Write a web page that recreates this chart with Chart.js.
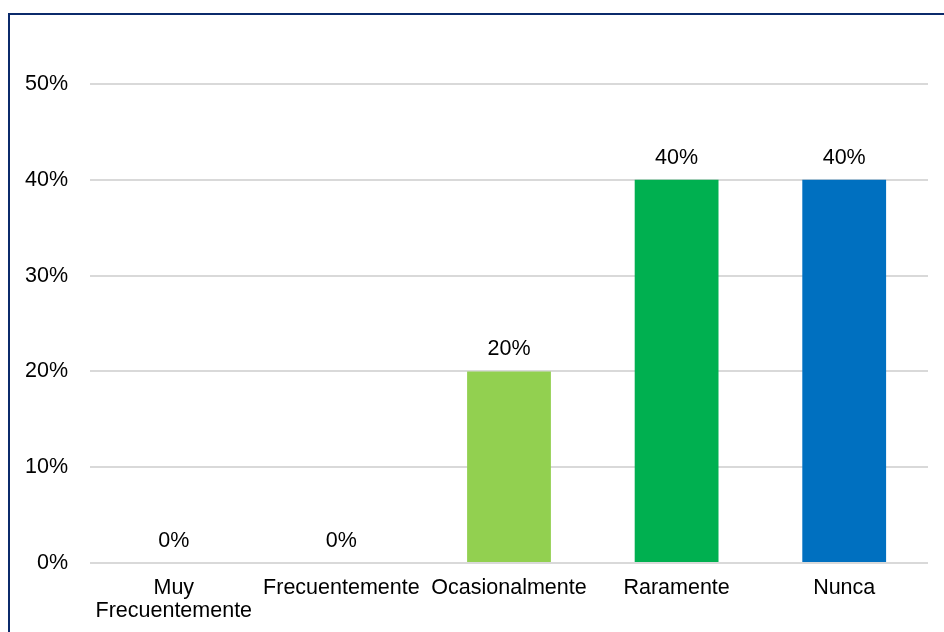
<!DOCTYPE html>
<html>
<head>
<meta charset="utf-8">
<script src="https://cdn.jsdelivr.net/npm/chart.js@4/dist/chart.umd.min.js"></script>
<style>
  html, body { margin: 0; padding: 0; background: #fff; overflow: hidden; }
  #wrap { position: relative; width: 944px; height: 632px; }
  #frame { position: absolute; left: 8px; top: 13px; width: 960px; height: 660px; border: 2px solid #0B2A6B; }
  canvas { position: absolute; left: 0; top: 0; }
</style>
</head>
<body>
<div id="wrap">
  <div id="frame"></div>
  <canvas id="frecuencia-chart" width="944" height="632"></canvas>
</div>
<script>
var categorias = [['Muy', 'Frecuentemente'], 'Frecuentemente', 'Ocasionalmente', 'Raramente', 'Nunca'];
var porcentajes = [0, 0, 20, 40, 40];
var colores = ['#92D050', '#92D050', '#92D050', '#00B050', '#0070C0'];

var fuente = { family: '"Liberation Sans", Arial, sans-serif', size: 21.5, lineHeight: '23px' };

// etiqueta de valor encima de cada barra
var etiquetas = {
    id: 'etiquetas',
    afterDatasetsDraw: function (chart) {
        var ctx = chart.ctx;
        var meta = chart.getDatasetMeta(0);
        ctx.save();
        ctx.font = fuente.size + 'px ' + fuente.family;
        ctx.fillStyle = '#000';
        ctx.textAlign = 'center';
        ctx.textBaseline = 'middle';
        meta.data.forEach(function (bar, i) {
            ctx.fillText(porcentajes[i] + '%', bar.x, bar.y - 22);
        });
        ctx.restore();
    }
};

var ctx = document.getElementById('frecuencia-chart').getContext('2d');
var myChart = new Chart(ctx, {
    type: 'bar',
    data: {
        labels: categorias,
        datasets: [{
            data: porcentajes,
            backgroundColor: colores,
            borderWidth: 0,
            barPercentage: 0.5,
            categoryPercentage: 1
        }]
    },
    options: {
        responsive: false,
        animation: false,
        layout: { padding: { left: 0, right: 16, top: 84, bottom: 0 } },
        plugins: { legend: { display: false }, tooltip: { enabled: false } },
        scales: {
            x: {
                grid: { display: false, drawTicks: false },
                border: { display: false },
                ticks: { color: '#000', font: fuente, padding: 14, maxRotation: 0, autoSkip: false },
                afterFit: function (axis) { axis.height = 69; }
            },
            y: {
                min: 0,
                max: 50,
                grid: { color: '#D9D9D9', lineWidth: 2, drawTicks: false },
                border: { display: false },
                ticks: {
                    stepSize: 10,
                    color: '#000',
                    font: fuente,
                    padding: 22,
                    callback: function (v) { return v + '%'; }
                },
                afterFit: function (axis) { axis.width = 90; }
            }
        }
    },
    plugins: [etiquetas]
});
</script>
</body>
</html>
